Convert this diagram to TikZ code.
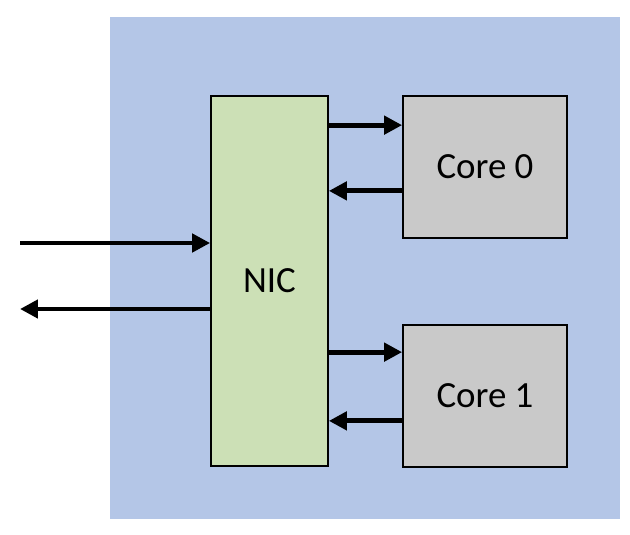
\documentclass[tikz,border=0pt]{standalone}
\usepackage{fontspec}
\setmainfont{Carlito}
\usepackage{tikz}
\usetikzlibrary{arrows.meta,positioning}

\definecolor{chipblue}{HTML}{B4C6E7}
\definecolor{nicgreen}{HTML}{CCE0B6}
\definecolor{coregray}{HTML}{C9C9C9}

\begin{document}
\begin{tikzpicture}[
  x=0.02cm, y=-0.02cm,
  every node/.style={font=\fontsize{21}{25}\selectfont},
  unit/.style={draw, line width=1pt, minimum width=2.34cm, minimum height=7.4cm, fill=nicgreen},
  core/.style={draw, line width=1pt, minimum width=3.28cm, minimum height=2.84cm, fill=coregray},
  arrow/.style={-{Triangle[length=0.36cm, width=0.36cm]}, line width=2.8pt}
]
\useasboundingbox (0,0) rectangle (630,535);
\fill[chipblue] (110,17) rectangle (620,519);

\node[unit] (nic) at (269.5,281) {NIC};
\node[core] (c0) at (485,167) {Core 0};
\node[core] (c1) at (485,396) {Core 1};

\coordinate (netin) at (20,243);
\coordinate (netout) at (20,309);
\coordinate (c0in) at ([yshift=-0.6cm]c0.north west);
\coordinate (c0out) at ([yshift=0.96cm]c0.south west);
\coordinate (c1in) at ([yshift=-0.56cm]c1.north west);
\coordinate (c1out) at ([yshift=0.94cm]c1.south west);

% network side
\draw[arrow] (netin) -- (netin -| nic.west);
\draw[arrow] (netout -| nic.west) -- (netout);

% NIC <-> cores
\draw[arrow] (nic.east |- c0in) -- (c0in);
\draw[arrow] (c0out) -- (nic.east |- c0out);
\draw[arrow] (nic.east |- c1in) -- (c1in);
\draw[arrow] (c1out) -- (nic.east |- c1out);
\end{tikzpicture}
\end{document}
